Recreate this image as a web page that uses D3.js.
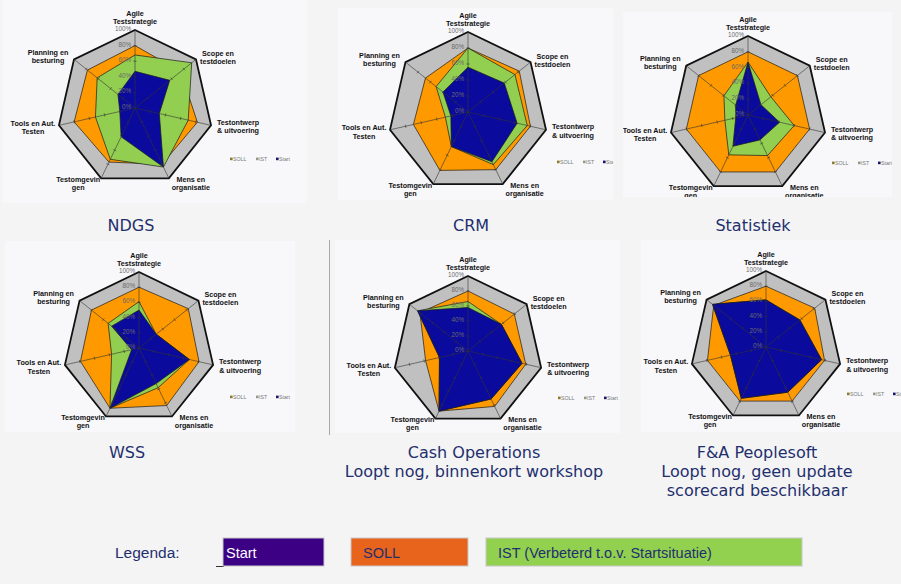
<!DOCTYPE html>
<html>
<head>
<meta charset="utf-8">
<script src="https://cdnjs.cloudflare.com/ajax/libs/d3/7.8.5/d3.min.js"></script>
<style>
  body { margin: 0; background: #f4f4f4; }
  svg { display: block; }
</style>
</head>
<body>
<div class="canvas"></div>
<script>
// data (percent per axis, clockwise from the top)
var axisLabels = [["Agile", "Teststrategie"], ["Scope en", "testdoelen"], ["Testontwerp", "& uitvoering"],
                  ["Mens en", "organisatie"], ["Testomgevin", "gen"], ["Tools en Aut.", "Testen"], ["Planning en", "besturing"]]
var tickValues = [0, 20, 40, 60, 80, 100]
var tickLabels = ["0%", "20%", "40%", "60%", "80%", "100%"]
var projects = ["NDGS", "CRM", "Statistiek", "WSS", "Cash Operations", "F&A Peoplesoft"]
var subtitles = [[], [], [], [], ["Loopt nog, binnenkort workshop"], ["Loopt nog, geen update", "scorecard beschikbaar"]]

var soll  = [[80, 75, 82, 80, 77, 80, 78],
             [80, 82, 80, 80, 81, 70, 68],
             [80, 80, 80, 80, 80, 80, 80],
             [80, 83, 81, 84, 88, 79, 80],
             [80, 79, 79, 82, 89, 58, 82],
             [80, 82, 79, 79, 79, 79, 88]]
var ist   = [[68, 93, 70, 84, 73, 52, 62],
             [80, 75, 76, 73, 48, 29, 51],
             [67, 37, 60, 57, 56, 30, 39],
             [61, 29, 68, 58, 88, 37, 52],
             [66, 57, 74, 71, 89, 39, 86],
             [62, 57, 75, 66, 75, 48, 90]]
var start = [[47, 57, 32, 84, 41, 20, 28],
             [56, 58, 63, 69, 48, 22, 40],
             [67, 21, 41, 35, 44, 16, 20],
             [50, 29, 68, 52, 88, 10, 46],
             [58, 57, 74, 71, 89, 39, 86],
             [62, 57, 75, 66, 75, 48, 90]]

var seriesNames = ["SOLL", "IST", "Start"]
var legendNames = ["Start", "SOLL", "IST (Verbeterd t.o.v. Startsituatie)"]

var svg = d3.select(".canvas").append("svg").attr("width", 901).attr("height", 584)

var colors = {SOLL: "#ff9900", IST: "#92cf50", Start: "#0a0a9c"}
var legendMini = {SOLL: "#8a7a30", IST: "#8f9a88", Start: "#15156e"}

// panel layout: heptagon centre + radius, white box, mini legend offset, title position
var panels = [
  {cx: 135, cy: 108, r: 78, box: [3, 0, 304, 203],    lx: 95, ly: 52, tx: 131, ty: 231},
  {cx: 468, cy: 112, r: 80, box: [338, 8, 275, 192],  lx: 89, ly: 51, tx: 471, ty: 231},
  {cx: 748, cy: 115, r: 79, box: [623, 12, 269, 185], lx: 84, ly: 49, tx: 753, ty: 231},
  {cx: 139, cy: 348, r: 76, box: [5, 241, 290, 191],  lx: 91, ly: 50, tx: 127, ty: 458},
  {cx: 468, cy: 351, r: 75, box: [335, 240, 285, 193], lx: 90, ly: 48, tx: 474, ty: 458},
  {cx: 766, cy: 347, r: 76, box: [641, 240, 260, 192], lx: 81, ly: 48, tx: 757, ty: 458}
]

// label offsets from each vertex (x centre, first line centre)
var labelOff = [[0, -17], [22, -6], [27, -3], [22, 1], [-23, 1], [-26, -2], [-26, -7]]
// mini legend entry offsets
var miniX = [0, 26, 46]

var angle = d3.scaleLinear().domain([0, 7]).range([0, 2 * Math.PI])

// separator line left of Cash Operations
svg.append("line").attr("x1", 329.5).attr("x2", 329.5).attr("y1", 240).attr("y2", 435)
   .attr("stroke", "#a8a8a8").attr("stroke-width", 1)

panels.forEach(function (p, k) {
  var g = svg.append("g")
  var clipId = "clip" + k
  g.append("clipPath").attr("id", clipId).append("rect")
    .attr("x", p.box[0]).attr("y", p.box[1]).attr("width", p.box[2]).attr("height", p.box[3])
  g.append("rect")
    .attr("x", p.box[0]).attr("y", p.box[1]).attr("width", p.box[2]).attr("height", p.box[3])
    .attr("fill", "#f8f8fb")

  var inner = g.append("g").attr("clip-path", "url(#" + clipId + ")")
  var plot = inner.append("g").attr("transform", "translate(" + p.cx + "," + p.cy + ")")

  var rScale = d3.scaleLinear().domain([0, 100]).range([0, p.r])
  var radial = d3.lineRadial()
    .angle(function (d, i) { return angle(i) })
    .radius(function (d) { return rScale(d) })
    .curve(d3.curveLinearClosed)

  // grey plot area
  plot.append("path").attr("d", radial(axisLabels.map(function () { return 100 })))
    .attr("fill", "#c0c0c0")

  var sets = {SOLL: soll[k], IST: ist[k], Start: start[k]}
  seriesNames.forEach(function (s) {
    plot.append("path").attr("d", radial(sets[s]))
      .attr("fill", colors[s]).attr("stroke", "#1a1a1a").attr("stroke-width", 0.7)
  })

  // outer ring
  plot.append("path").attr("d", radial(axisLabels.map(function () { return 100 })))
    .attr("fill", "none").attr("stroke", "#111").attr("stroke-width", 1.8).attr("stroke-linejoin", "miter")

  // axis lines + tick marks
  axisLabels.forEach(function (lab, i) {
    var a = angle(i)
    var sx = Math.sin(a), sy = -Math.cos(a)
    plot.append("line").attr("x1", 0).attr("y1", 0)
      .attr("x2", sx * rScale(100)).attr("y2", sy * rScale(100))
      .attr("stroke", "#333").attr("stroke-width", 0.6)
    tickValues.slice(1, 5).forEach(function (v) {
      var px = sx * rScale(v), py = sy * rScale(v)
      plot.append("line")
        .attr("x1", px - Math.cos(a) * 1.6).attr("y1", py - Math.sin(a) * 1.6)
        .attr("x2", px + Math.cos(a) * 1.6).attr("y2", py + Math.sin(a) * 1.6)
        .attr("stroke", "#333").attr("stroke-width", 0.6)
    })
    // axis labels
    var vx = sx * rScale(100), vy = sy * rScale(100)
    var t = plot.append("text")
      .attr("text-anchor", "middle")
      .attr("font-family", "Liberation Sans, Arial, sans-serif")
      .attr("font-weight", "bold").attr("font-size", 7.2).attr("fill", "#111")
    lab.forEach(function (line, j) {
      t.append("tspan").attr("x", vx + labelOff[i][0])
        .attr("y", vy + labelOff[i][1] + 2.5 + j * 8.2).text(line)
    })
  })

  // percentage labels along top axis
  tickValues.forEach(function (v, i) {
    plot.append("text").attr("x", -4).attr("y", -rScale(v) + 1)
      .attr("text-anchor", "end")
      .attr("font-family", "Liberation Sans, Arial, sans-serif")
      .attr("font-size", 6.3).attr("fill", "#6a6a6a")
      .text(tickLabels[i])
  })

  // mini legend (clipped by the panel box, as in the original)
  var lg = plot.append("g").attr("transform", "translate(" + p.lx + "," + p.ly + ")")
  seriesNames.forEach(function (s, i) {
    lg.append("rect").attr("x", miniX[i]).attr("y", -2.4).attr("width", 2.6).attr("height", 2.6)
      .attr("fill", legendMini[s])
    lg.append("text").attr("x", miniX[i] + 3).attr("y", 0.8)
      .attr("font-family", "Liberation Sans, Arial, sans-serif")
      .attr("font-size", 5.2).attr("fill", "#777").text(s)
  })

  // titles
  var title = svg.append("text").attr("text-anchor", "middle")
    .attr("font-family", "DejaVu Sans, Verdana, sans-serif")
    .attr("font-size", 16).attr("fill", "#1f2f6e")
  ;[projects[k]].concat(subtitles[k]).forEach(function (line, j) {
    title.append("tspan").attr("x", p.tx).attr("y", p.ty + j * 19).text(line)
  })
})

// bottom legend
var legendBoxes = [
  {x: 223, w: 101, fill: "#3b0083", text: "#ffffff"},
  {x: 351, w: 117, fill: "#e8631b", text: "#1f2f6e"},
  {x: 486, w: 316, fill: "#92d050", text: "#1f2f6e"}
]
svg.append("text").attr("x", 115).attr("y", 558)
  .attr("font-family", "Liberation Sans, Arial, sans-serif")
  .attr("font-size", 15.5).attr("fill", "#1f2f6e").text("Legenda:")
svg.append("line").attr("x1", 216).attr("x2", 224).attr("y1", 566.5).attr("y2", 566.5)
  .attr("stroke", "#333").attr("stroke-width", 1)
legendNames.forEach(function (name, i) {
  var b = legendBoxes[i]
  svg.append("rect").attr("x", b.x).attr("y", 538).attr("width", b.w).attr("height", 28)
    .attr("fill", b.fill).attr("stroke", "#c8c8c8").attr("stroke-width", 1)
  svg.append("text").attr("x", b.x + (i === 0 ? 3 : 12)).attr("y", 557.5)
    .attr("font-family", "Liberation Sans, Arial, sans-serif")
    .attr("font-size", 14.5).attr("fill", b.text).text(name)
})
</script>
</body>
</html>
